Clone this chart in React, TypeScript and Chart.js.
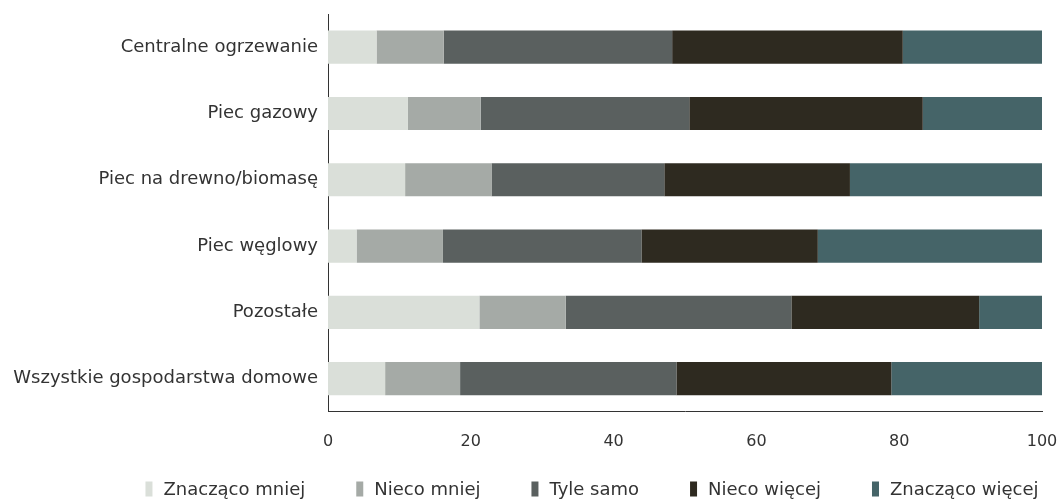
import React, { useEffect, useRef } from "react";
import { Chart, registerables } from "chart.js";

Chart.register(...registerables);

const categories = [
  "Centralne ogrzewanie",
  "Piec gazowy",
  "Piec na drewno/biomasę",
  "Piec węglowy",
  "Pozostałe",
  "Wszystkie gospodarstwa domowe",
];

const seriesNames = [
  "Znacząco mniej",
  "Nieco mniej",
  "Tyle samo",
  "Nieco więcej",
  "Znacząco więcej",
];

const znaczacoMniej = [6.8, 11.2, 10.8, 4.0, 21.2, 8.0];
const niecoMniej = [9.4, 10.2, 12.1, 12.1, 12.1, 10.5];
const tyleSamo = [32.0, 29.2, 24.2, 27.8, 31.6, 30.3];
const niecoWiecej = [32.3, 32.7, 26.0, 24.7, 26.3, 30.1];
const znaczacoWiecej = [19.5, 16.7, 26.9, 31.4, 8.8, 21.1];

const colors = ["#dadfd9", "#a5aaa6", "#5a605f", "#2e2a20", "#456468"];

const xTicks = [0, 20, 40, 60, 80, 100];

const FONT = "'DejaVu Sans', 'Open Sans', sans-serif";
const TEXT = "#333333";
const FONT_SIZE = 18;

const legendPlugin = {
  id: "customLegend",
  afterDraw(chart: any) {
    const ctx = chart.ctx as CanvasRenderingContext2D;
    const datasets = chart.data.datasets;
    const boxW = 7;
    const boxH = 15;
    const textGap = 11;
    const itemGap = 51;
    const centerX = 592;
    const centerY = 489;
    ctx.save();
    ctx.font = `${FONT_SIZE}px ${FONT}`;
    ctx.textBaseline = "middle";
    ctx.textAlign = "left";
    const widths = datasets.map((d: any) => ctx.measureText(d.label).width);
    const total =
      widths.reduce((a: number, w: number) => a + boxW + textGap + w, 0) +
      itemGap * (datasets.length - 1);
    let x = centerX - total / 2;
    datasets.forEach((d: any, i: number) => {
      ctx.fillStyle = d.backgroundColor;
      ctx.fillRect(x, centerY - boxH / 2, boxW, boxH);
      ctx.fillStyle = TEXT;
      ctx.fillText(d.label, x + boxW + textGap, centerY + 1);
      x += boxW + textGap + widths[i] + itemGap;
    });
    ctx.restore();
  },
};

export default function App() {
  const ref = useRef<HTMLCanvasElement | null>(null);

  useEffect(() => {
    if (!ref.current) return;
    const values = [znaczacoMniej, niecoMniej, tyleSamo, niecoWiecej, znaczacoWiecej];
    const chart = new Chart(ref.current, {
      type: "bar",
      data: {
        labels: categories,
        datasets: seriesNames.map((name, i) => ({
          label: name,
          data: values[i],
          backgroundColor: colors[i],
          borderWidth: 0,
          categoryPercentage: 1,
          barPercentage: 0.5,
        })),
      },
      options: {
        indexAxis: "y",
        animation: false,
        responsive: false,
        maintainAspectRatio: false,
        layout: { padding: { top: 14, left: 0, right: 0, bottom: 30 } },
        plugins: {
          tooltip: { enabled: false },
          legend: { display: false },
        },
        scales: {
          x: {
            stacked: true,
            min: 0,
            max: 100,
            afterBuildTicks: (scale: any) => {
              scale.ticks = xTicks.map((v) => ({ value: v }));
            },
            afterFit: (scale: any) => {
              scale.paddingRight = 18;
              scale.paddingLeft = 0;
            },
            grid: { display: false, drawTicks: false },
            border: { display: true, color: "#333333", width: 1 },
            ticks: {
              padding: 20,
              color: TEXT,
              font: { family: FONT, size: 16 },
            },
          },
          y: {
            stacked: true,
            afterFit: (scale: any) => {
              scale.width = 328;
              scale.paddingTop = 0;
              scale.paddingBottom = 0;
            },
            grid: { display: false, drawTicks: false },
            border: { display: true, color: "#333333", width: 1 },
            ticks: {
              padding: 10,
              color: TEXT,
              font: { family: FONT, size: FONT_SIZE },
            },
          },
        },
      },
      plugins: [legendPlugin],
    });
    return () => chart.destroy();
  }, []);

  return (
    <div style={{ position: "fixed", left: 0, top: 0, width: 1060, height: 501 }}>
      <canvas ref={ref} width={1060} height={501} style={{ width: 1060, height: 501 }} />
    </div>
  );
}
